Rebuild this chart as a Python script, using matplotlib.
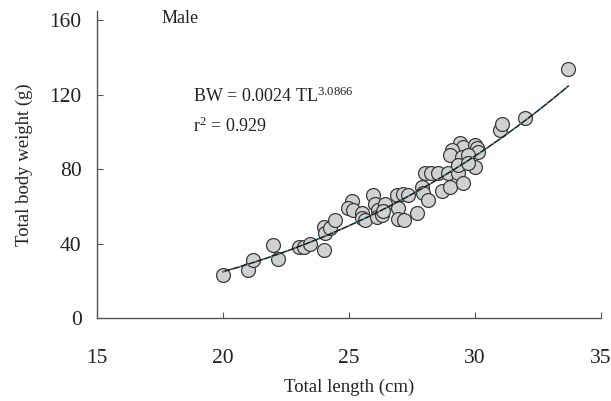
import matplotlib.pyplot as plt
import numpy as np

# total length (cm) and total body weight (g), males
tl = [20.0, 21.0, 21.2, 22.0, 22.2, 23.0, 23.2, 23.45, 24.0, 24.0, 24.05,
      24.25, 24.45, 25.1, 24.97, 25.14, 25.5, 25.5, 25.63, 25.97, 26.03,
      26.16, 26.1, 26.3, 26.43, 26.36, 26.9, 27.15, 27.35, 26.96, 26.96,
      27.2, 27.7, 27.9, 27.95, 28.15, 28.68, 29.0, 28.0, 28.26, 28.55,
      28.94, 29.34, 29.54, 29.4, 29.54, 29.07, 29.0, 30.0, 30.06, 30.13,
      29.47, 29.73, 29.34, 30.0, 29.73, 31.0, 31.06, 32.0, 33.7]
bw = [23.0, 25.8, 31.0, 39.2, 31.5, 38.0, 38.0, 39.7, 36.5, 49.0, 45.8,
      48.2, 52.6, 62.6, 58.9, 58.0, 56.2, 53.5, 52.6, 66.0, 61.5,
      58.0, 54.4, 55.3, 61.5, 57.3, 66.0, 66.6, 66.0, 58.9, 53.0,
      52.6, 56.2, 70.5, 67.3, 63.4, 68.3, 70.5, 77.7, 78.0, 77.7,
      78.0, 78.0, 72.7, 93.8, 92.0, 90.2, 87.5, 92.9, 91.1, 89.3,
      86.6, 87.5, 82.0, 81.3, 83.0, 101.0, 104.3, 107.2, 133.5]

a, b = 0.0024, 3.0866
r2 = 0.929

plt.rcParams['font.family'] = ['Liberation Serif', 'DejaVu Serif']
plt.rcParams['mathtext.fontset'] = 'custom'
plt.rcParams['mathtext.rm'] = 'Liberation Serif'
plt.rcParams['mathtext.it'] = 'Liberation Serif'

fig = plt.figure(figsize=(6.11, 4.01), dpi=100)
ax = fig.add_axes([0.1588, 0.207, 0.8248, 0.766])

ax.scatter(tl, bw, s=100, c='#d0d1d3', edgecolors='#3a3a3a', linewidths=0.9, zorder=2)

xs = np.linspace(min(tl), max(tl), 200)
ax.plot(xs, a * xs ** b, color='#1a1a1a', lw=1.1, zorder=3)
ax.plot(xs, a * xs ** b, color='#3fb6b6', lw=0.8, dashes=(1.5, 6), zorder=4)

ax.set_xlim(15, 35)
ax.set_ylim(0, 165)
ax.set_xticks([15, 20, 25, 30, 35])
ax.set_yticks([0, 40, 80, 120, 160])
ax.spines['top'].set_visible(False)
ax.spines['right'].set_visible(False)
for s in ['left', 'bottom']:
    ax.spines[s].set_color('#555555')
    ax.spines[s].set_linewidth(1.0)
ax.tick_params(axis='both', direction='in', length=4, color='#555555', labelsize=15.5,
               labelcolor='#222222')
ax.tick_params(axis='x', pad=22)
ax.tick_params(axis='y', pad=11)

ax.set_xlabel('Total length (cm)', fontsize=13.5, color='#222222', labelpad=8)
ax.set_ylabel('Total body weight (g)', fontsize=13.5, color='#222222', labelpad=12)

ax.text(17.55, 161, 'Male', fontsize=13, va='center', ha='left', color='#222222')
ax.text(18.8, 119, r'BW = 0.0024 TL$^{\mathrm{3.0866}}$', fontsize=13, va='center',
        ha='left', color='#222222')
ax.text(18.8, 103, r'r$^{\mathrm{2}}$ = 0.929', fontsize=13, va='center',
        ha='left', color='#222222')

fig.savefig('out.png', dpi=100)
